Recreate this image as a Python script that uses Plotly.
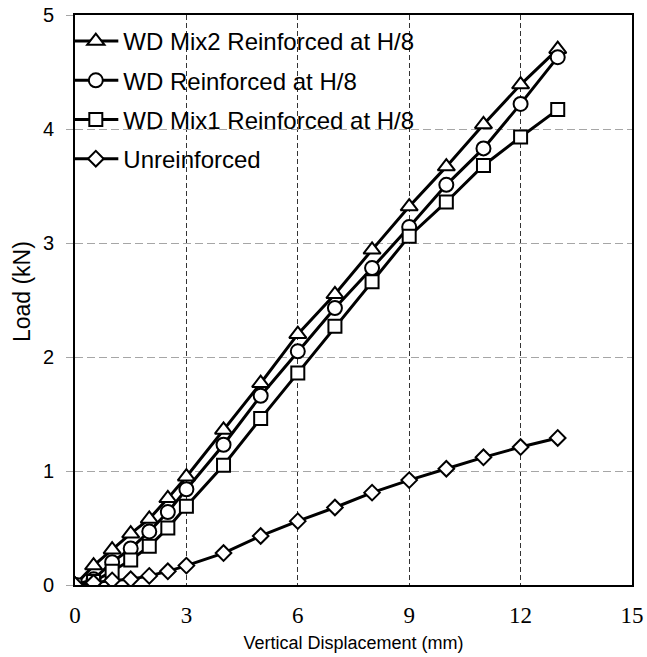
import plotly.graph_objects as go

# Vertical displacement (mm) at each load reading
displacement = [0, 0.5, 1, 1.5, 2, 2.5, 3, 4, 5, 6, 7, 8, 9, 10, 11, 12, 13]

# Load (kN) for each specimen
load_mix2 = [0, 0.17, 0.31, 0.45, 0.58, 0.76, 0.95, 1.36, 1.77, 2.20, 2.55, 2.94, 3.32, 3.67, 4.04, 4.39, 4.70]
load_wd = [0, 0.05, 0.20, 0.32, 0.47, 0.64, 0.84, 1.23, 1.66, 2.05, 2.43, 2.78, 3.14, 3.51, 3.83, 4.22, 4.63]
load_mix1 = [0, 0.03, 0.12, 0.22, 0.34, 0.50, 0.69, 1.05, 1.46, 1.86, 2.27, 2.66, 3.06, 3.36, 3.68, 3.93, 4.17]
load_unreinforced = [0, 0.02, 0.04, 0.05, 0.08, 0.12, 0.17, 0.28, 0.43, 0.56, 0.68, 0.81, 0.92, 1.02, 1.12, 1.21, 1.29]

series_names = [
    "WD Mix2 Reinforced at H/8",
    "WD Reinforced at H/8",
    "WD Mix1 Reinforced at H/8",
    "Unreinforced",
]
series_loads = [load_mix2, load_wd, load_mix1, load_unreinforced]
series_symbols = ["triangle-up", "circle", "square", "diamond"]
series_sizes = [15, 14, 13, 12]

x_ticks = [0, 3, 6, 9, 12, 15]
y_ticks = [0, 1, 2, 3, 4, 5]

fig = go.Figure()
for i, (name, loads, sym, sz) in enumerate(zip(series_names, series_loads, series_symbols, series_sizes)):
    fig.add_trace(go.Scatter(
        x=displacement,
        y=loads,
        name=name,
        legendgroup=f"g{i}",
        mode="lines+markers",
        line=dict(color="black", width=3),
        marker=dict(symbol=sym, size=sz, color="white",
                    line=dict(color="black", width=2)),
    ))

fig.update_layout(
    width=647,
    height=657,
    margin=dict(l=75, r=15, t=15, b=72),
    paper_bgcolor="white",
    plot_bgcolor="white",
    showlegend=True,
    legend=dict(
        x=-0.012, y=0.993, xanchor="left", yanchor="top",
        bgcolor="rgba(0,0,0,0)",
        font=dict(family="Liberation Sans, Arial", size=24, color="black"),
        tracegroupgap=5,
        itemwidth=45,
    ),
    xaxis=dict(
        range=[0, 15],
        tickvals=x_ticks,
        ticktext=[str(v) for v in x_ticks],
        showline=True, linecolor="black", linewidth=2, mirror=True,
        showgrid=True, gridcolor="#333333", gridwidth=1, griddash="5px,3px",
        zeroline=False,
        automargin=False,
        ticks="",
        ticklabelstandoff=8,
        tickfont=dict(family="Liberation Serif, Times New Roman", size=23, color="black"),
        title=dict(text="Vertical Displacement (mm)", standoff=10,
                   font=dict(family="Liberation Sans, Arial", size=18, color="black")),
    ),
    yaxis=dict(
        range=[0, 5],
        tickvals=y_ticks,
        ticktext=[str(v) for v in y_ticks],
        showline=True, linecolor="black", linewidth=2, mirror=True,
        showgrid=True, gridcolor="#a6a6a6", gridwidth=1, griddash="8px,4px",
        zeroline=False,
        automargin=False,
        ticks="outside", ticklen=7, tickcolor="#a6a6a6", tickwidth=1,
        ticklabelstandoff=8,
        tickfont=dict(family="Liberation Sans, Arial", size=20, color="black"),
    ),
    annotations=[dict(
        text="Load (kN)", textangle=-90,
        xref="paper", yref="paper", x=-0.095, y=0.514,
        xanchor="center", yanchor="middle", showarrow=False,
        font=dict(family="Liberation Sans, Arial", size=23, color="black"),
    )],
)

fig.write_html("out.html")
